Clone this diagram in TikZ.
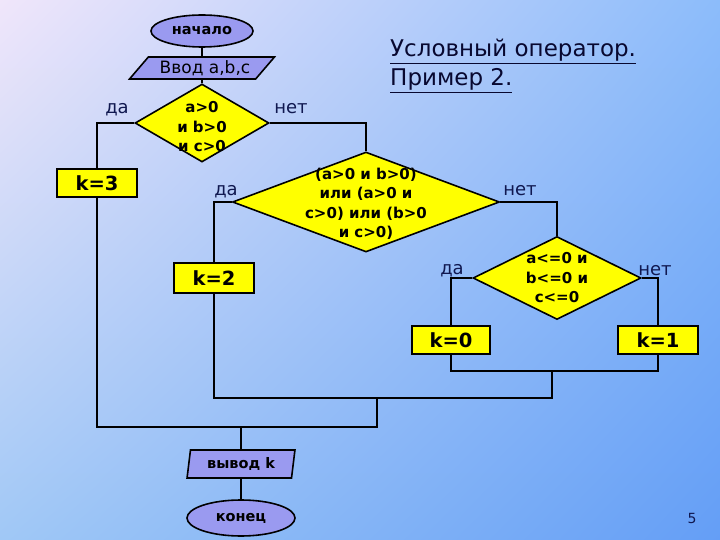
\documentclass[tikz,border=0pt]{standalone}
\usepackage{fontspec}
\setmainfont{DejaVu Sans}
\usetikzlibrary{shapes.geometric, shadings}
\definecolor{bgtl}{RGB}{240,230,250}
\definecolor{bgtr}{RGB}{140,188,250}
\definecolor{bgbl}{RGB}{160,200,246}
\definecolor{bgbr}{RGB}{100,158,246}
\definecolor{termfill}{RGB}{154,154,240}
\definecolor{condfill}{RGB}{255,255,0}
\definecolor{txtline}{RGB}{16,24,80}
\definecolor{ttlline}{RGB}{8,8,48}
\tikzset{
  term/.style    = {ellipse, draw=black, fill=termfill, line width=1.6pt,
                    inner sep=0pt, font=\fontsize{14.5}{16}\selectfont\bfseries},
  io/.style      = {trapezium, trapezium stretches=true, draw=black, fill=termfill,
                    line width=1.6pt, inner sep=0pt, font=\fontsize{17}{19}\selectfont},
  cond/.style    = {diamond, draw=black, fill=condfill, line width=1.6pt, inner sep=0pt},
  condtxt/.style = {align=center, inner sep=0pt, font=\fontsize{15}{19.5}\selectfont\bfseries},
  act/.style     = {rectangle, draw=black, fill=condfill, line width=1.6pt,
                    minimum width=80pt, minimum height=28pt, inner sep=0pt,
                    font=\fontsize{19.5}{22}\selectfont\bfseries},
  lbl/.style     = {font=\fontsize{18}{20}\selectfont, text=txtline, inner sep=0pt},
  ttl/.style     = {font=\fontsize{23}{29}\selectfont, text=ttlline, align=left, inner sep=0pt},
  link/.style    = {line width=1.9pt, draw=black},
}
\begin{document}
\begin{tikzpicture}[x=1pt, y=-1pt]
  \shade[upper left=bgtl, upper right=bgtr, lower left=bgbl, lower right=bgbr] (0,0) rectangle (720,540);
  \useasboundingbox (0,0) rectangle (720,540);
  % title and page number
  \node[ttl, anchor=north west] (title) at (390,39) {\underline{Условный оператор.}\\\underline{Пример 2.}};
  \node[lbl, font=\fontsize{14}{16}\selectfont] (page) at (692,518) {5};
  % blocks
  \node[term, minimum width=102pt, minimum height=32pt] (st) at (202,31) {начало};
  \node[io, trapezium left angle=42, trapezium right angle=138, minimum width=145pt, minimum height=22pt] (in) at (202,68) {\hspace{6pt}Ввод a,b,c};
  \node[cond, minimum width=134pt, minimum height=78pt, label={[condtxt, yshift=-4pt]center:{a>0\\и b>0\\и c>0}}] (c1) at (202,123) {};
  \node[cond, minimum width=267pt, minimum height=100pt, label={[condtxt, yshift=-2pt]center:{(a>0 и b>0)\\или (a>0 и\\c>0) или (b>0\\и c>0)}}] (c2) at (366,202) {};
  \node[cond, minimum width=168pt, minimum height=83pt, label={[condtxt]center:{a<=0 и\\b<=0 и\\c<=0}}] (c3) at (557,278) {};
  \node[act] (k3) at (97,183) {k=3};
  \node[act, minimum height=30pt] (k2) at (214,278) {k=2};
  \node[act, minimum width=78pt] (k0) at (451,340) {k=0};
  \node[act] (k1) at (658,340) {k=1};
  \node[io, trapezium left angle=80, trapezium right angle=100, minimum width=108pt, minimum height=28pt, font=\fontsize{14.5}{16}\selectfont\bfseries] (out) at (241,464) {вывод k};
  \node[term, minimum width=108pt, minimum height=36pt] (end) at (241,518) {конец};
  % branch labels
  \node[lbl] (y1) at (117,110) {да};
  \node[lbl] (n1) at (291,109) {нет};
  \node[lbl] (y2) at (226,192) {да};
  \node[lbl] (n2) at (520,191) {нет};
  \node[lbl] (y3) at (452,271) {да};
  \node[lbl] (n3) at (655,271) {нет};
  % joins
  \coordinate (m1) at (552,371);
  \coordinate (m2) at (377,398);
  \coordinate (m3) at (241,427);
  % connectors
  \foreach \a/\b in {st/in,in/c1,m3/out,out/end}{\draw[link] (\a) -- (\b);}
  \draw[link] (c1.west) -| (k3.north);
  \draw[link] (c1.east) -| (c2.north);
  \draw[link] (c2.west) -| (k2.north);
  \draw[link] (c2.east) -| (c3.north);
  \draw[link] (c3.west) -| (k0.north);
  \draw[link] (c3.east) -| (k1.north);
  \draw[link] (k0.south) |- (m1) -| (k1.south);
  \draw[link] (k2.south) |- (m1 |- m2) -- (m1);
  \draw[link] (k3.south) |- (m2 |- m3) -- (m2);
\end{tikzpicture}
\end{document}
